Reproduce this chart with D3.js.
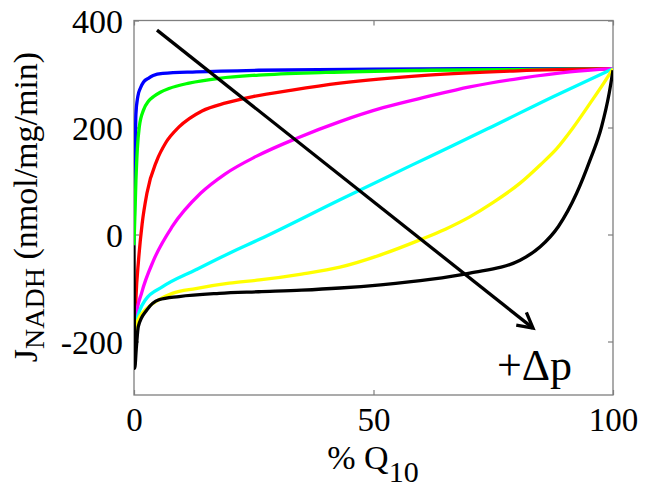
<!DOCTYPE html>
<html>
<head>
<meta charset="utf-8">
<script src="https://d3js.org/d3.v7.min.js"></script>
<style>
  body { margin: 0; background: #fff; }
  svg text { font-family: "Liberation Serif", "Times New Roman", serif; fill: #000; }
</style>
</head>
<body>
<div id="chart"></div>
<script>
const width = 649;
const height = 494;
const margin = {top: 20.5, right: 36, bottom: 99, left: 134};

// data: % Q10 (x) vs J_NADH (y)
const xTicks = [0, 50, 100];
const yTicks = [-200, 0, 200, 400];

const blueX = [0, 0.25, 0.4, 0.8, 1.3, 2, 3, 4, 6, 13, 26, 50, 75, 100];
const blueY = [-20, 150, 225, 258, 273, 285, 292, 297, 301, 304, 307, 309, 310, 310];

const greenX = [0, 0.4, 0.7, 1.1, 2, 3, 4.1, 5.5, 7.3, 11.5, 17.8, 26, 40, 62, 100];
const greenY = [-20, 100, 160, 201, 233, 249, 258, 266, 273, 283, 292, 298, 303, 307, 310];

const redX = [0.1, 0.4, 0.95, 1.7, 2.7, 4.8, 6.6, 9.4, 14.2, 19.2, 25, 33, 43, 61.4, 80.2, 100];
const redY = [-200, -120, -48, 20, 77, 139, 171, 201, 231, 246, 258, 270, 283, 298, 306, 310];

const magentaX = [0.1, 0.5, 1.6, 4.1, 8, 13.9, 19, 25.5, 34, 43, 52, 61.4, 70.1, 80.6, 91, 100];
const magentaY = [-200, -150, -109, -48, 15, 77, 113, 146, 180, 211, 237, 258, 276, 292, 304, 310];

const cyanX = [0.1, 0.6, 2.4, 5.9, 12.9, 19.9, 26.2, 43, 61.8, 73.7, 87.6, 100];
const cyanY = [-200, -160, -122, -98, -66, -35, -9, 65, 146, 197, 258, 310];

const yellowX = [0.1, 0.8, 2.7, 5.2, 8, 12.9, 19.9, 26.2, 35, 43, 51.5, 59.7, 65, 70.1, 75, 80.6, 84.8, 88.2, 91.7, 95.2, 98, 100];
const yellowY = [-200, -160, -138, -122, -110, -101, -91, -85, -74, -61, -38, -10, 10, 33, 60, 96, 130, 160, 200, 245, 282, 310];

const blackX = [0, 0.15, 0.5, 0.9, 2.7, 5.2, 9.4, 17.8, 26, 35, 43, 51.5, 61.8, 70.1, 80.6, 84.8, 88.6, 92.4, 95.2, 97.6, 99.2, 100];
const blackY = [-20, -250, -210, -172, -141, -122, -116, -110, -107, -104, -100, -94, -84, -72, -48, -23, 15, 77, 139, 201, 264, 307];

const series = [
  {color: "#0000ff", xs: blueX, ys: blueY},
  {color: "#00ff00", xs: greenX, ys: greenY},
  {color: "#ff0000", xs: redX, ys: redY},
  {color: "#ff00ff", xs: magentaX, ys: magentaY},
  {color: "#00ffff", xs: cyanX, ys: cyanY},
  {color: "#ffff00", xs: yellowX, ys: yellowY},
  {color: "#000000", xs: blackX, ys: blackY}
];

// annotation arrow, in data units
const arrowFrom = [4.8, 382];
const arrowTo = [83.3, -175];

const svg = d3.select("#chart").append("svg")
  .attr("width", width)
  .attr("height", height);

const x = d3.scaleLinear().domain([0, 100]).range([margin.left, width - margin.right]);
const y = d3.scaleLinear().domain([-300, 400]).range([height - margin.bottom, margin.top]);

svg.append("defs").append("clipPath").attr("id", "plotclip")
  .append("rect")
  .attr("x", x(0)).attr("y", y(400))
  .attr("width", x(100) - x(0)).attr("height", y(-300) - y(400));

// box
svg.append("rect")
  .attr("x", x(0)).attr("y", y(400))
  .attr("width", x(100) - x(0)).attr("height", y(-300) - y(400))
  .attr("fill", "none")
  .attr("stroke", "#7f7f7f")
  .attr("stroke-width", 1.3);

const tickLen = 5;
// axes (ticks inward, mirrored)
function styleAxis(g) {
  g.select(".domain").remove();
  g.selectAll(".tick line").attr("stroke", "#7f7f7f").attr("stroke-width", 1.2);
}

svg.append("g")
  .attr("transform", "translate(0," + y(-300) + ")")
  .call(d3.axisBottom(x).tickValues(xTicks).tickSize(-tickLen).tickPadding(5).tickFormat(d => String(d)))
  .call(styleAxis)
  .selectAll("text")
  .attr("font-size", "33px")
  .attr("dy", "0.95em");

svg.append("g")
  .attr("transform", "translate(0," + y(400) + ")")
  .call(d3.axisTop(x).tickValues(xTicks).tickSize(-tickLen).tickFormat(""))
  .call(styleAxis);

svg.append("g")
  .attr("transform", "translate(" + x(0) + ",0)")
  .call(d3.axisLeft(y).tickValues(yTicks).tickSize(-tickLen).tickPadding(11).tickFormat(d => String(d)))
  .call(styleAxis)
  .selectAll("text")
  .attr("font-size", "34px")
  .attr("dy", "0.35em");

svg.append("g")
  .attr("transform", "translate(" + x(100) + ",0)")
  .call(d3.axisRight(y).tickValues(yTicks).tickSize(-tickLen).tickFormat(""))
  .call(styleAxis);

// curves
const line = d3.line()
  .x(d => x(d[0]))
  .y(d => y(d[1]))
  .curve(d3.curveMonotoneX);

const plot = svg.append("g").attr("clip-path", "url(#plotclip)");

plot.selectAll("path.curve")
  .data(series)
  .join("path")
  .attr("class", "curve")
  .attr("d", s => line(s.xs.map((v, i) => [v, s.ys[i]])))
  .attr("fill", "none")
  .attr("stroke", s => s.color)
  .attr("stroke-width", 3.3)
  .attr("stroke-linejoin", "round");

// arrow
const ax0 = x(arrowFrom[0]), ay0 = y(arrowFrom[1]);
const ax1 = x(arrowTo[0]), ay1 = y(arrowTo[1]);
const ang = Math.atan2(ay1 - ay0, ax1 - ax0);
const headLen = 17, headAng = 0.5;

svg.append("line")
  .attr("x1", ax0).attr("y1", ay0)
  .attr("x2", ax1).attr("y2", ay1)
  .attr("stroke", "#000")
  .attr("stroke-width", 3.3);

svg.append("path")
  .attr("d", "M" + (ax1 - headLen * Math.cos(ang - headAng)) + "," + (ay1 - headLen * Math.sin(ang - headAng)) +
    "L" + ax1 + "," + ay1 +
    "L" + (ax1 - headLen * Math.cos(ang + headAng)) + "," + (ay1 - headLen * Math.sin(ang + headAng)))
  .attr("fill", "none")
  .attr("stroke", "#000")
  .attr("stroke-width", 3.3)
  .attr("stroke-linejoin", "miter");

svg.append("text")
  .attr("x", 497)
  .attr("y", 380)
  .attr("font-size", "44px")
  .text("+Δp");

// axis labels
const xl = svg.append("text")
  .attr("x", 373)
  .attr("y", 469)
  .attr("text-anchor", "middle")
  .attr("font-size", "34px");
xl.append("tspan").text("% Q");
xl.append("tspan").attr("font-size", "30px").attr("dy", 13).text("10");

const yl = svg.append("text")
  .attr("transform", "translate(37,207) rotate(-90)")
  .attr("text-anchor", "middle")
  .attr("font-size", "34px");
yl.append("tspan").text("J");
yl.append("tspan").attr("font-size", "28px").attr("dy", 7).text("NADH");
yl.append("tspan").attr("dy", -7).text(" (nmol/mg/min)");
</script>
</body>
</html>
